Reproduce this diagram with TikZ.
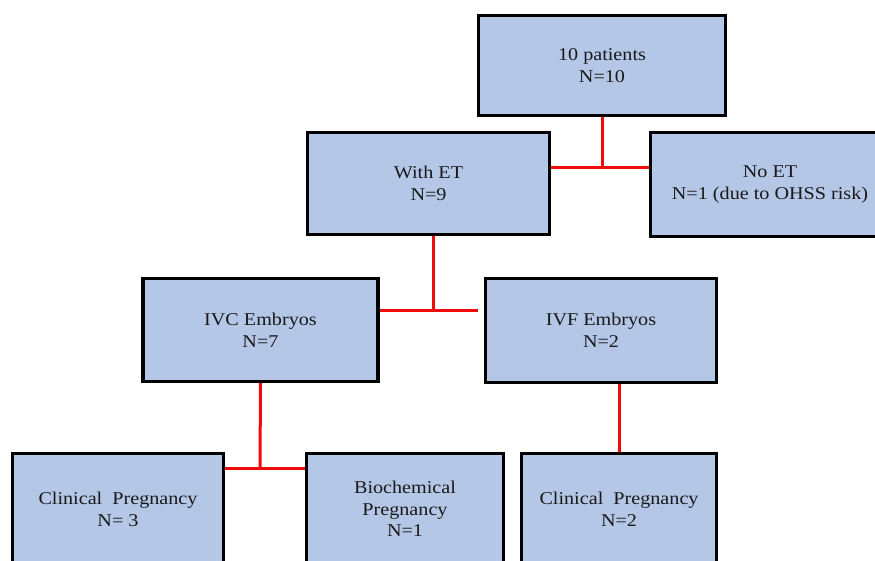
\documentclass[tikz,border=0pt]{standalone}
\usepackage{fontspec}
\setmainfont{Liberation Serif}[FakeStretch=1.12]
\definecolor{boxblue}{RGB}{180,199,231}
\definecolor{linkred}{RGB}{240,10,10}
\begin{document}
\begin{tikzpicture}[x=1pt,y=-1pt,
  box/.style={draw=black, line width=3.4pt, fill=boxblue, align=center, inner sep=0pt,
    font=\fontsize{18}{21.7}\selectfont, text=black!90},
  link/.style={draw=linkred, line width=3pt}]
\useasboundingbox (0,0) rectangle (875,560);
\clip (0,0) rectangle (875,560);
\node[box, minimum width=247, minimum height=100] (n1) at (602,65.5) {10 patients\\N=10};
\node[box, minimum width=242, minimum height=102] (withET) at (428.5,183.5) {With ET\\N=9};
\node[box, minimum width=239, minimum height=104] (noET) at (770,184.5) {No ET\\N=1 (due to OHSS risk)};
\node[box, minimum width=235, minimum height=103] (ivc) at (260.5,330) {IVC Embryos\\N=7};
\node[box, minimum width=231, minimum height=104] (ivf) at (601,330.5) {IVF Embryos\\N=2};
\node[box, minimum width=211, minimum height=111] (cp1) at (118,509) {Clinical\ \ Pregnancy\\N= 3};
\node[box, minimum width=197, minimum height=111] (bio) at (405,509) {Biochemical\\Pregnancy\\N=1};
\node[box, minimum width=195, minimum height=111] (cp2) at (619,509) {Clinical\ \ Pregnancy\\N=2};
\coordinate (j1) at (602,167);
\coordinate (j2) at (433.5,310);
\coordinate (j2end) at (478,310);
\coordinate (j3) at (260,468);
\draw[link] (n1.south) -- (j1);
\draw[link] (j1 -| withET.east) -- (j1 -| noET.west);
\draw[link] (j2 |- withET.south) -- (j2);
\draw[link] (j2 -| ivc.east) -- (j2end);
\draw[link] (ivc.south) -- (j3);
\draw[link] (j3 -| cp1.east) -- (j3 -| bio.west);
\draw[link] (cp2.north |- ivf.south) -- (cp2.north);
\end{tikzpicture}
\end{document}
